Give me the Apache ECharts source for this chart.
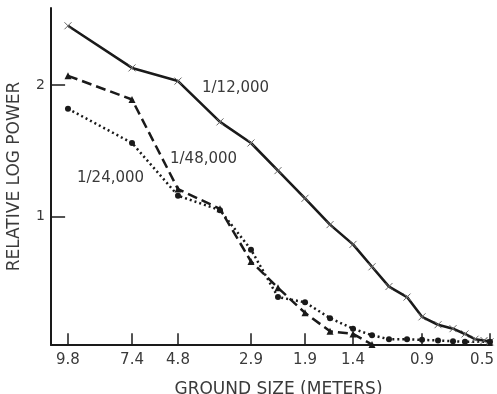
<!DOCTYPE html>
<html>
<head>
<meta charset="utf-8">
<script src="https://cdn.jsdelivr.net/npm/echarts@6/dist/echarts.min.js"></script>
<style>
  html, body { margin: 0; padding: 0; background: #fff; }
  #chart { width: 497px; height: 394px; }
</style>
</head>
<body>
<div id="chart"></div>
<script>
// x is the position along the ground-size axis (0 = left end, 100 = right end)
const positions = [3.85, 18.37, 28.8, 38.32, 45.35, 51.47, 57.6, 63.27, 68.48, 72.79,
  76.64, 80.73, 84.13, 87.76, 91.16, 93.88, 96.15, 98.19, 99.55];
const tickPositions = [3.85, 18.37, 28.8, 45.35, 57.6, 68.48, 84.13, 99.55];
const tickLabels = ['9.8', '7.4', '4.8', '2.9', '1.9', '1.4', '0.9', '0.5'];
const yTicks = [1, 2];

const scale12000 = [2.45, 2.13, 2.03, 1.72, 1.56, 1.35, 1.14, 0.94, 0.79, 0.62,
  0.47, 0.39, 0.24, 0.18, 0.15, 0.11, 0.07, 0.06, 0.05];
const scale48000 = [2.07, 1.89, 1.21, 1.06, 0.66, 0.46, 0.27, 0.13, 0.11, 0.03,
  null, null, null, null, null, null, null, null, null];
const scale24000 = [1.82, 1.56, 1.16, 1.05, 0.75, 0.39, 0.35, 0.23, 0.15, 0.1,
  0.07, 0.07, 0.065, 0.06, 0.055, 0.05, null, null, 0.05];

const ink = '#1a1a1a';
const textColor = '#3a3a3a';
const font = 'DejaVu Sans';
const yMin = 0.026, yMax = 2.585;
const xTickLen = 0.09;  // inward tick length, in y units
const yTickLen = 3.2;   // inward tick length, in x units

function toPairs(vals) {
  return positions.map((x, i) => [x, vals[i]]).filter(p => p[1] !== null);
}

// ticks point into the plot, drawn as short mark lines
const tickLines = tickPositions.map(x => [{ coord: [x, yMin] }, { coord: [x, yMin + xTickLen] }])
  .concat(yTicks.map(y => [{ coord: [0, y] }, { coord: [yTickLen, y] }]));

const myChart = echarts.init(document.getElementById('chart'));
myChart.setOption({
  animation: false,
  backgroundColor: '#fff',
  grid: { left: 51, right: 5, top: 8, bottom: 49, containLabel: false, outerBoundsMode: 'none' },
  xAxis: {
    type: 'value',
    min: 0,
    max: 100,
    name: 'GROUND SIZE (METERS)',
    nameLocation: 'middle',
    nameGap: 36,
    nameTextStyle: { fontFamily: font, fontSize: 17, color: textColor, padding: [0, 0, 0, 14] },
    axisLine: { show: true, lineStyle: { color: ink, width: 2 } },
    axisTick: { show: false },
    axisLabel: {
      fontFamily: font, fontSize: 15, color: textColor, margin: 8,
      customValues: tickPositions,
      formatter(value) {
        let best = 0;
        tickPositions.forEach((p, i) => {
          if (Math.abs(p - value) < Math.abs(tickPositions[best] - value)) best = i;
        });
        return best === tickLabels.length - 1 ? '{last|' + tickLabels[best] + '}' : tickLabels[best];
      },
      rich: {
        last: { fontFamily: font, fontSize: 15, color: textColor, padding: [0, 16, 0, 0] }
      }
    },
    splitLine: { show: false }
  },
  yAxis: {
    type: 'value',
    min: yMin,
    max: yMax,
    name: 'RELATIVE LOG POWER',
    nameLocation: 'middle',
    nameGap: 28,
    nameRotate: 90,
    nameTextStyle: { fontFamily: font, fontSize: 17, color: textColor },
    axisLine: { show: true, lineStyle: { color: ink, width: 2 } },
    axisTick: { show: false },
    axisLabel: { fontFamily: font, fontSize: 14, color: textColor, margin: 6,
      customValues: yTicks, formatter: v => String(Math.round(v)) },
    splitLine: { show: false }
  },
  series: [
    {
      name: '1/12,000',
      type: 'line',
      data: toPairs(scale12000),
      symbol: 'path://M0,0L10,10M10,0L0,10',
      symbolSize: 7,
      itemStyle: { color: 'transparent', borderColor: '#666', borderWidth: 1 },
      lineStyle: { color: ink, width: 2.6, type: 'solid' },
      markLine: {
        silent: true,
        symbol: 'none',
        label: { show: false },
        lineStyle: { color: ink, width: 1.5, type: 'solid' },
        data: tickLines
      }
    },
    {
      name: '1/48,000',
      type: 'line',
      data: toPairs(scale48000),
      symbol: 'triangle',
      symbolSize: 7,
      itemStyle: { color: ink },
      lineStyle: { color: ink, width: 2.5, type: [10, 5] }
    },
    {
      name: '1/24,000',
      type: 'line',
      data: toPairs(scale24000),
      symbol: 'circle',
      symbolSize: 6,
      itemStyle: { color: ink },
      lineStyle: { color: ink, width: 2.5, type: [2, 3] }
    }
  ],
  graphic: [
    { type: 'text', x: 202, y: 88, style: { text: '1/12,000', font: '15px "DejaVu Sans"', fill: textColor, verticalAlign: 'middle' } },
    { type: 'text', x: 170, y: 159, style: { text: '1/48,000', font: '15px "DejaVu Sans"', fill: textColor, verticalAlign: 'middle' } },
    { type: 'text', x: 77, y: 178, style: { text: '1/24,000', font: '15px "DejaVu Sans"', fill: textColor, verticalAlign: 'middle' } }
  ]
});
</script>
</body>
</html>
